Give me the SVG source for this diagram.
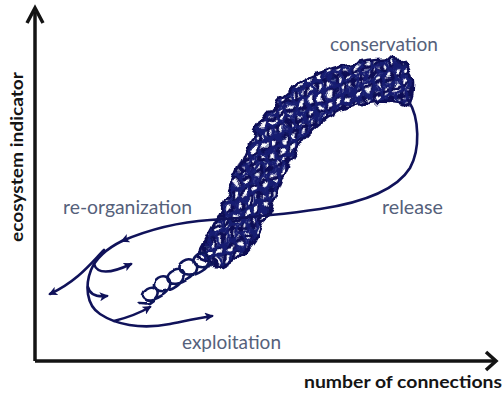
<svg xmlns="http://www.w3.org/2000/svg" width="503" height="395" viewBox="0 0 503 395">
  <style>
    .axis { fill: none; stroke: #141414; stroke-width: 3.5; stroke-linejoin: miter; stroke-linecap: butt; }
    .axis-label { font-family: Lato, "Open Sans", "Liberation Sans", sans-serif; font-weight: bold; font-size: 17px; fill: #151515; }
    .phase { font-family: Lato, "Open Sans", "Liberation Sans", sans-serif; font-size: 19px; fill: #55617b; }
    .path { fill: none; stroke: #10125a; stroke-width: 2.6; stroke-linecap: round; stroke-linejoin: round; }
    .arrow { marker-end: url(#ah); }
  </style>
  <defs>
    <marker id="ah" viewBox="0 0 10 10" refX="8" refY="5" markerWidth="9" markerHeight="9" markerUnits="userSpaceOnUse" orient="auto">
      <path d="M0,0 L10,5 L0,10 L2.5,5 Z" fill="#10125a"/>
    </marker>
    <!-- interlocking loops used to fill the tangled band -->
    <pattern id="loopsA" patternUnits="userSpaceOnUse" width="16" height="12" patternTransform="rotate(-55)">
      <g fill="none" stroke="#0e1056" stroke-width="3">
        <ellipse cx="8" cy="6" rx="7" ry="4.6"/>
        <ellipse cx="0" cy="0" rx="7" ry="4.6"/>
        <ellipse cx="16" cy="0" rx="7" ry="4.6"/>
        <ellipse cx="0" cy="12" rx="7" ry="4.6"/>
        <ellipse cx="16" cy="12" rx="7" ry="4.6"/>
      </g>
    </pattern>
    <pattern id="loopsB" patternUnits="userSpaceOnUse" width="17" height="14" patternTransform="rotate(15) translate(5,3)">
      <g fill="none" stroke="#151b72" stroke-width="2.4">
        <ellipse cx="8.5" cy="7" rx="5" ry="6"/>
        <ellipse cx="0" cy="0" rx="5" ry="6"/>
        <ellipse cx="17" cy="0" rx="5" ry="6"/>
        <ellipse cx="0" cy="14" rx="5" ry="6"/>
        <ellipse cx="17" cy="14" rx="5" ry="6"/>
      </g>
    </pattern>
    <path id="bandShape" d="M196,258 C206,240 220,215 230,190 C240,165 250,135 268,112 C285,90 310,74 340,66 C365,60 390,57 406,62 C414,70 416,90 408,106 C395,100 370,100 350,107 C325,116 305,135 292,158 C280,180 272,210 258,235 C248,252 235,262 222,268 Z"/>
    <mask id="bandMask" maskUnits="userSpaceOnUse" x="0" y="0" width="503" height="395">
      <use href="#bandShape" fill="#fff"/>
    </mask>
    <filter id="scribble" filterUnits="userSpaceOnUse" x="0" y="0" width="503" height="395">
      <feTurbulence type="fractalNoise" baseFrequency="0.075" numOctaves="2" seed="7" result="noise"/>
      <feDisplacementMap in="SourceGraphic" in2="noise" scale="11" xChannelSelector="R" yChannelSelector="G"/>
    </filter>
    <filter id="wobble" filterUnits="userSpaceOnUse" x="0" y="0" width="503" height="395">
      <feTurbulence type="fractalNoise" baseFrequency="0.05" numOctaves="1" seed="3" result="noise"/>
      <feDisplacementMap in="SourceGraphic" in2="noise" scale="4" xChannelSelector="R" yChannelSelector="G"/>
    </filter>
  </defs>

  <!-- axes -->
  <g id="axes">
    <path class="axis" d="M35,361 V12"/>
    <path class="axis" d="M27,23 L35,8 L43,23"/>
    <path class="axis" d="M35,361 H494" stroke="#4a4a4a"/>
    <path class="axis" d="M486,352 L496,361 L486,370"/>
  </g>

  <!-- axis titles -->
  <g id="axis-titles">
    <text class="axis-label" transform="translate(23,242) rotate(-90)" textLength="170" lengthAdjust="spacingAndGlyphs">ecosystem indicator</text>
    <text class="axis-label" x="304" y="388" textLength="198" lengthAdjust="spacingAndGlyphs">number of connections</text>
  </g>

  <!-- adaptive cycle: tangled growth band -->
  <g id="growth">
    <g filter="url(#scribble)">
      <g mask="url(#bandMask)">
        <rect x="180" y="50" width="250" height="230" fill="url(#loopsA)"/>
        <rect x="180" y="50" width="250" height="230" fill="url(#loopsB)"/>
      </g>
      <use href="#bandShape" fill="none" stroke="#0e1056" stroke-width="2.6"/>
    </g>
    <!-- looser coil at the start of growth -->
    <g filter="url(#wobble)">
      <g transform="translate(146,296) rotate(-32)">
        <path class="path" stroke-width="2.9" d="M-10,2 C-6,4 -3,8 0,8 c16,0 16,-14 5,-14 c-11,0 -11,14 9,14 c18,0 18,-17 6,-17 c-12,0 -12,17 10,17 c17,0 17,-15 5,-15 c-12,0 -12,15 9,15 c19,0 19,-18 6,-18 c-13,0 -13,18 10,18 c18,0 18,-16 6,-16 c-12,0 -12,16 9,16"/>
      </g>
    </g>
  </g>

  <!-- release and re-organization connectors -->
  <g id="connectors">
    <path class="path arrow" d="M408,100 C420,118 420,150 410,168 C395,192 360,203 320,209 C280,215 240,218 210,220 C180,222 150,229 122,241"/>
    <path class="path arrow" d="M122,241 C108,248 96,258 91,270 C85,285 86,305 100,314 C115,324 140,330 170,324 C185,321 198,318 212,316"/>
    <path class="path arrow" d="M104,250 C92,262 78,281 50,294"/>
    <path class="path arrow" d="M94,264 C97,274 110,274 131,264"/>
    <path class="path arrow" d="M88,287 C90,296 98,297 107,296"/>
    <path class="path arrow" d="M114,321 C126,318 138,314 150,307"/>
  </g>

  <!-- phase labels -->
  <g id="labels">
    <text class="phase" x="330" y="51" textLength="108" lengthAdjust="spacingAndGlyphs">conservation</text>
    <text class="phase" x="63" y="214" textLength="129" lengthAdjust="spacingAndGlyphs">re-organization</text>
    <text class="phase" x="382" y="214" textLength="61" lengthAdjust="spacingAndGlyphs">release</text>
    <text class="phase" x="182" y="349" textLength="99" lengthAdjust="spacingAndGlyphs">exploitation</text>
  </g>
</svg>
